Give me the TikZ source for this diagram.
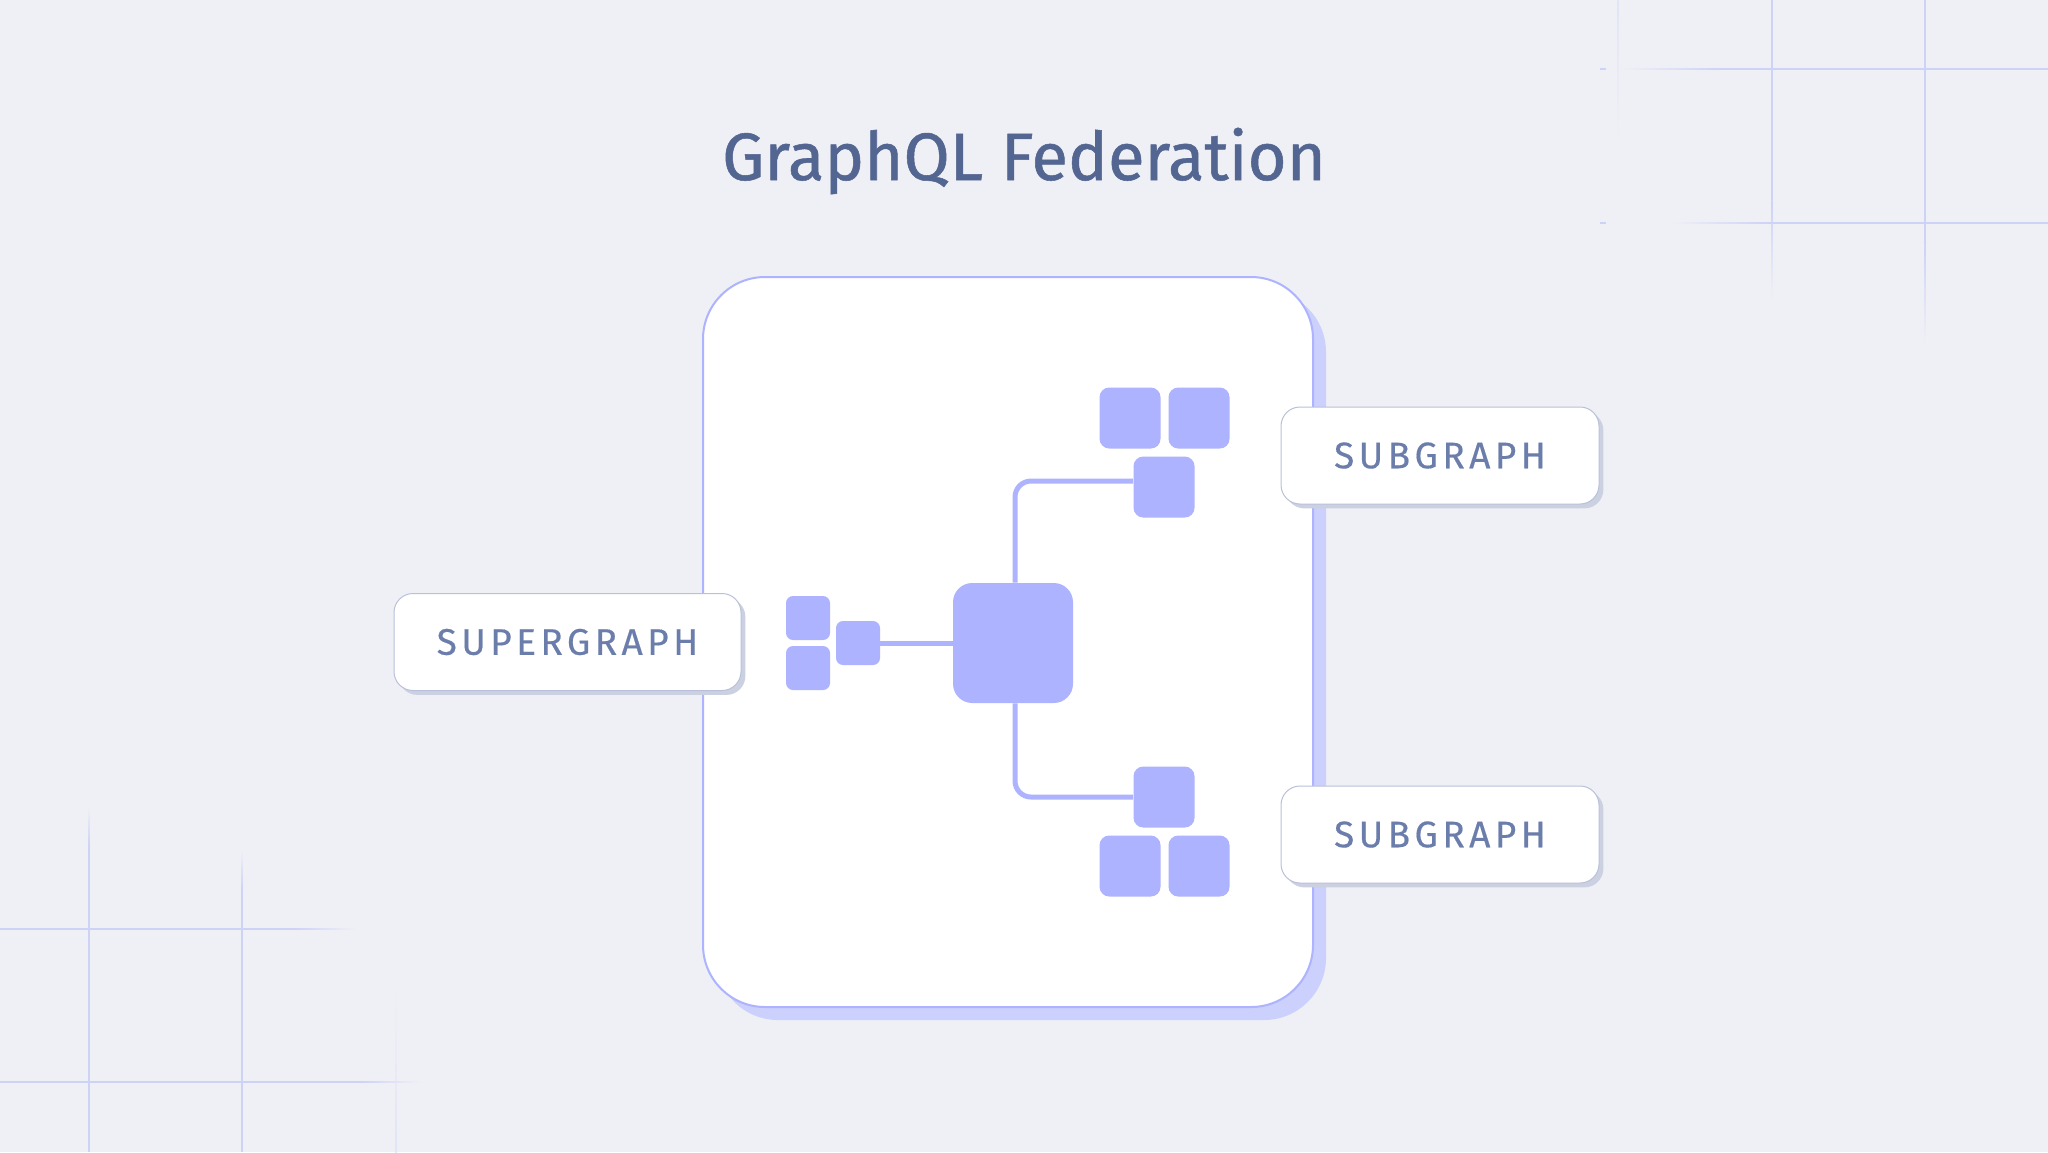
\documentclass[tikz,border=0pt]{standalone}
\usepackage{fontspec}
\setmainfont{Fira Sans}
\usetikzlibrary{positioning,shadows}

\definecolor{canvas}{HTML}{EFF0F5}
\definecolor{gridc}{HTML}{CDD2F7}
\definecolor{frame}{HTML}{ADB3FE}
\definecolor{frameshade}{HTML}{CBD0FD}
\definecolor{block}{HTML}{ADB3FF}
\definecolor{tagline}{HTML}{B9C1DA}
\definecolor{tagshade}{HTML}{CBD1E0}
\definecolor{tagtext}{HTML}{6B7DAB}
\definecolor{heading}{HTML}{536591}

\begin{document}
\begin{tikzpicture}[x=0.5pt,y=-0.5pt,on grid,
    blk/.style={fill=block,inner sep=0pt,minimum size=#1,rounded corners=0.16*#1},
    tag/.style={draw=tagline,line width=0.5pt,fill=white,rounded corners=9.5pt,
      minimum height=48.5pt,text=tagtext,
      font=\fontsize{18.5}{20}\selectfont\addfontfeature{LetterSpace=12,FakeBold=0.4},
      general shadow={fill=tagshade,shadow xshift=2.2pt,shadow yshift=-2.2pt}},
    wire/.style={draw=block,line width=2.5pt}]
  \fill[canvas] (0,0) rectangle (2048,1152);
  \useasboundingbox (0,0) rectangle (2048,1152);

  % grid in the top right corner
  \foreach \x/\e in {1772/300,1925/345} {
    \fill[gridc] (\x-0.75,0) rectangle (\x+0.75,\e-100);
    \shade[top color=gridc,bottom color=canvas] (\x-0.75,\e-100) rectangle (\x+0.75,\e);
  }
  \shade[top color=gridc!40!canvas,bottom color=canvas] (1617.25,0) rectangle (1618.75,140);
  \foreach \y/\s in {69/1620,223/1670} {
    \shade[left color=canvas,right color=gridc] (\s,\y-0.75) rectangle (\s+100,\y+0.75);
    \fill[gridc] (\s+100,\y-0.75) rectangle (2048,\y+0.75);
    \fill[gridc] (1600,\y-0.75) rectangle (1606,\y+0.75);
  }

  % grid in the bottom left corner
  \foreach \x/\s in {89/807,242/850} {
    \shade[top color=canvas,bottom color=gridc] (\x-0.75,\s) rectangle (\x+0.75,\s+40);
    \fill[gridc] (\x-0.75,\s+40) rectangle (\x+0.75,1152);
  }
  \shade[top color=canvas,bottom color=gridc!40!canvas] (395.25,987) rectangle (396.75,1152);
  \foreach \y/\e in {929/355,1082/420} {
    \fill[gridc] (0,\y-0.75) rectangle (\e-60,\y+0.75);
    \shade[left color=gridc,right color=canvas] (\e-60,\y-0.75) rectangle (\e,\y+0.75);
  }

  \node[font=\fontsize{33.5}{36}\selectfont\addfontfeature{FakeBold=0.8},text=heading,anchor=base]
    (head) at (1024,180) {GraphQL Federation};

  \node[draw=frame,line width=1pt,fill=white,rounded corners=31pt,
    minimum width=305pt,minimum height=365pt,
    general shadow={fill=frameshade,shadow xshift=6.5pt,shadow yshift=-6.5pt}] (panel) at (1008,642) {};

  % the gateway and its services
  \node[blk=60pt] (hub) at (1013,643) {};
  \node[blk=22pt] (lnk) [left=77.5pt of hub] {};
  \node[blk=22pt] (l1) [above left=12.5pt and 25pt of lnk] {};
  \node[blk=22pt] (l2) [below left=12.5pt and 25pt of lnk] {};
  \node[blk=30.5pt] (tq) [above right=78pt and 75.5pt of hub] {};
  \node[blk=30.5pt] (t1) [above left=34.5pt and 17pt of tq] {};
  \node[blk=30.5pt] (t2) [above right=34.5pt and 17.5pt of tq] {};
  \node[blk=30.5pt] (bq) [below right=77pt and 75.5pt of hub] {};
  \node[blk=30.5pt] (b1) [below left=34.5pt and 17pt of bq] {};
  \node[blk=30.5pt] (b2) [below right=34.5pt and 17.5pt of bq] {};

  \draw[wire] (lnk) -- (hub);
  \draw[wire,rounded corners=8pt] ([xshift=1pt]hub.north) |- ([yshift=3pt]tq.west);
  \draw[wire,rounded corners=8pt] ([xshift=1pt]hub.south) |- (bq.west);

  \node[tag,minimum width=173.5pt] (super) at (567.5,642) {SUPERGRAPH};
  \node[tag,minimum width=159pt] (sub1) at (1440,455.5) {SUBGRAPH};
  \node[tag,minimum width=159pt] (sub2) [below=189.5pt of sub1] {SUBGRAPH};
\end{tikzpicture}
\end{document}
